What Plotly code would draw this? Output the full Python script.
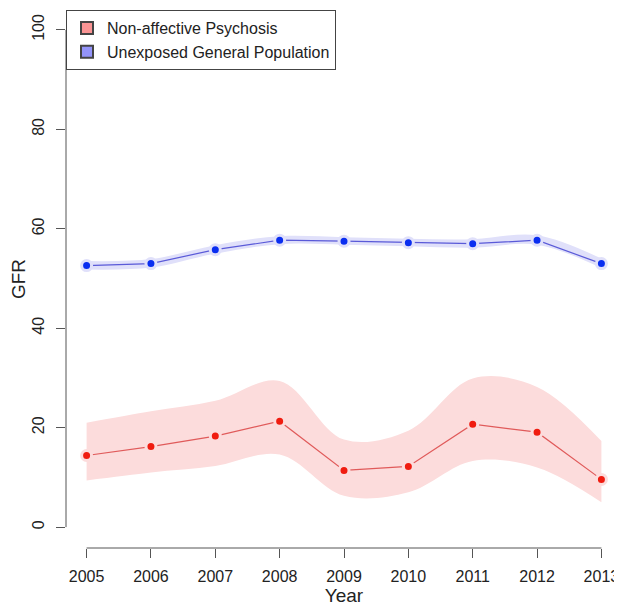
import plotly.graph_objects as go

years = [2005, 2006, 2007, 2008, 2009, 2010, 2011, 2012, 2013]

# Non-affective psychosis: GFR and confidence band
psy_gfr = [14.4, 16.2, 18.3, 21.3, 11.4, 12.2, 20.7, 19.1, 9.6]
psy_lo = [9.4, 11.0, 12.3, 14.6, 6.3, 7.0, 13.3, 12.0, 5.0]
psy_hi = [21.0, 23.3, 25.4, 29.4, 17.6, 19.4, 29.9, 28.2, 17.3]

# Unexposed general population
pop_gfr = [52.6, 53.0, 55.8, 57.7, 57.5, 57.2, 57.0, 57.7, 53.0]
pop_lo = [51.8, 52.2, 55.0, 56.9, 56.8, 56.5, 56.2, 56.8, 52.1]
pop_hi = [53.5, 53.9, 56.7, 58.5, 58.3, 58.0, 57.9, 58.7, 54.0]

y_ticks = [0, 20, 40, 60, 80, 100]

RED_BAND = "rgb(252,220,220)"
BLUE_BAND = "rgb(224,224,250)"
AXIS = "#555555"
FONT = "Liberation Sans, Arial, sans-serif"


def add_series(fig, y, lo, hi, band, line_col, pt_col):
    fig.add_trace(go.Scatter(x=years, y=lo, mode="lines", line=dict(width=0, shape="spline"),
                             hoverinfo="skip", showlegend=False))
    fig.add_trace(go.Scatter(x=years, y=hi, mode="lines", line=dict(width=0, shape="spline"),
                             fill="tonexty", fillcolor=band, hoverinfo="skip", showlegend=False))
    fig.add_trace(go.Scatter(x=years, y=y, mode="lines+markers",
                             line=dict(color=line_col, width=1.2),
                             marker=dict(color=pt_col, size=10, line=dict(color=band, width=3)),
                             showlegend=False))


fig = go.Figure()
add_series(fig, psy_gfr, psy_lo, psy_hi, RED_BAND, "#e05a5a", "#f01c10")
add_series(fig, pop_gfr, pop_lo, pop_hi, BLUE_BAND, "#5a5ad8", "#0a2ef0")

# legend entries (filled squares as in the R legend)
for name, col in [("Non-affective Psychosis", "#fa9494"), ("Unexposed General Population", "#9494fa")]:
    fig.add_trace(go.Scatter(x=[None], y=[None], mode="markers", name=name,
                             marker=dict(symbol="square", size=12, color=col,
                                         line=dict(color="#444", width=1))))

# detached R-style axis lines
fig.add_shape(type="line", xref="paper", yref="y", x0=0, x1=0, y0=0, y1=100,
              line=dict(color=AXIS, width=1))
fig.add_shape(type="line", xref="x", yref="paper", x0=years[0], x1=years[-1], y0=0, y1=0,
              line=dict(color=AXIS, width=1))

# the page body adds an 8px offset, so the figure is a bit smaller than the window
fig.update_layout(
    width=614, height=599,
    margin=dict(l=58, r=0, t=2, b=59, autoexpand=False),
    plot_bgcolor="white", paper_bgcolor="white",
    font=dict(family=FONT, size=16, color="#222"),
    legend=dict(x=0, y=1, xanchor="left", yanchor="top", bordercolor="#444", borderwidth=1,
                bgcolor="white", font=dict(size=16), traceorder="normal",
                itemsizing="constant", tracegroupgap=0),
)
fig.update_xaxes(range=[2004.68, 2013.32], tickvals=years, ticks="outside", ticklen=9,
                 tickcolor=AXIS, showgrid=False, zeroline=False, showline=False,
                 ticklabelstandoff=5, automargin=False, title=dict(text="Year", standoff=3))
fig.update_yaxes(range=[-4.2, 104], tickvals=y_ticks, ticks="outside", ticklen=9,
                 tickcolor=AXIS, tickangle=-90, showgrid=False, zeroline=False,
                 ticklabelstandoff=6, showline=False, automargin=False,
                 title=dict(text="GFR", standoff=6))

fig.write_html("out.html")
